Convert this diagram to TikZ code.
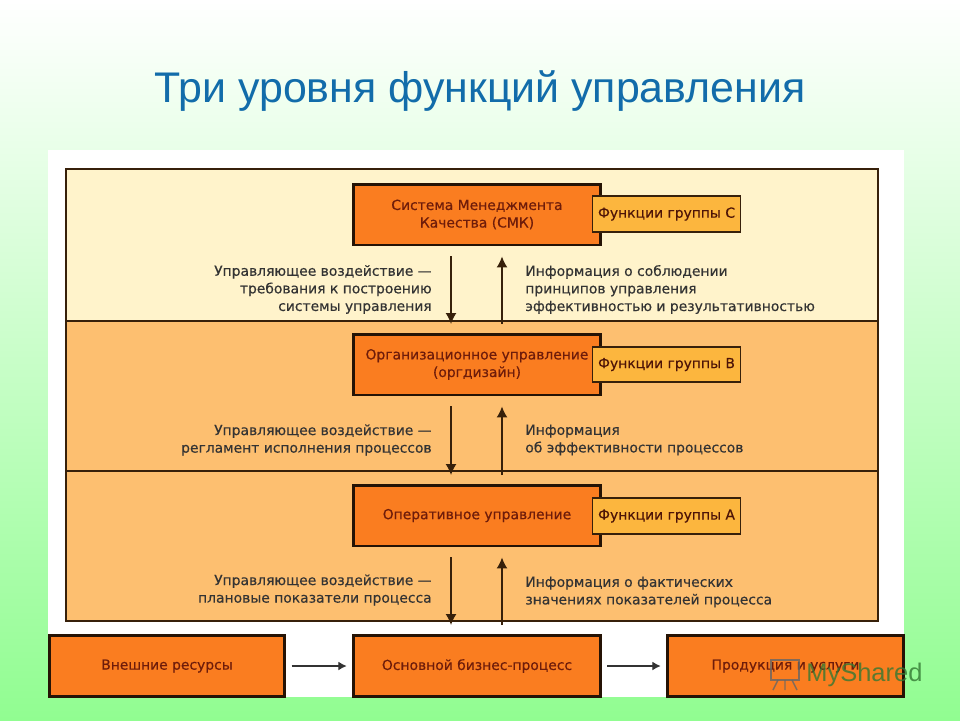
\documentclass[tikz,border=0pt]{standalone}
\usepackage{fontspec}
\setmainfont{DejaVu Sans}
\newfontfamily\titlefont{Liberation Sans}
\newfontfamily\labfont{DejaVu Sans}[FakeBold=0.35]
\usepackage{tikz}
\usetikzlibrary{arrows.meta,calc,positioning}
\definecolor{cgreen}{RGB}{145,253,145}
\definecolor{ctitle}{RGB}{18,108,170}
\definecolor{cbox}{RGB}{250,125,32}
\definecolor{cgroup}{RGB}{252,182,62}
\definecolor{ctop}{RGB}{255,243,203}
\definecolor{clevel}{RGB}{253,191,112}
\definecolor{cline}{RGB}{55,32,10}
\definecolor{cboxtext}{RGB}{110,28,10}
\tikzset{
  panel/.style={draw=cline,line width=0.8pt},
  box/.style={rectangle,fill=cbox,draw=black!85!cbox,line width=1.7pt,
    minimum width=4.94cm,minimum height=1.22cm,align=center,inner sep=0pt,
    text=cboxtext,font=\labfont\fontsize{7.9}{10}\selectfont},
  sidebox/.style={box,minimum width=4.72cm},
  groupbox/.style={rectangle,fill=cgroup,draw=cline,line width=1pt,
    minimum width=2.96cm,minimum height=0.71cm,inner sep=0pt,
    text=cboxtext!70!black,font=\labfont\fontsize{7.9}{10}\selectfont},
  leftlab/.style={anchor=east,align=right,inner sep=0pt,text=black!80,
    font=\labfont\fontsize{7.9}{10}\selectfont},
  rightlab/.style={anchor=west,align=left,inner sep=0pt,text=black!80,
    font=\labfont\fontsize{7.9}{10}\selectfont},
  arr/.style={-{Latex[length=2.2mm,width=2.2mm]},line width=0.8pt,draw=cline},
  harr/.style={-{Latex[length=1.7mm,width=1.8mm]},line width=0.8pt,draw=black!80,shorten <=3pt,shorten >=3pt}
}
\begin{document}
\begin{tikzpicture}[x=0.02cm,y=-0.02cm]
  \useasboundingbox (0,0) rectangle (960,720);
  \shade[top color=white,bottom color=cgreen,middle color=cgreen!50] (0,0) rectangle (960,720);
  \node[text=ctitle,font=\titlefont\fontsize{24.4}{28}\selectfont,inner sep=0pt] (title) at (480,91) {Три уровня функций управления};
  \fill[white] (48,150) rectangle (904,697);
  % three levels
  \draw[panel,fill=ctop] (66,169) rectangle (878,321);
  \draw[panel,fill=clevel] (66,321) rectangle (878,471);
  \draw[panel,fill=clevel] (66,471) rectangle (878,621);
  % management boxes with their groups
  \node[box] (smk) at (477,214.5) {Система Менеджмента\\Качества (СМК)};
  \node[groupbox] (groupc) at (666.5,214) {Функции группы С};
  \node[box] (org) at (477,364.5) {Организационное управление\\(оргдизайн)};
  \node[groupbox] (groupb) at (666.5,364.5) {Функции группы В};
  \node[box] (oper) at (477,515.5) {Оперативное управление};
  \node[groupbox] (groupa) at (666.5,516) {Функции группы А};
  % bottom row
  \node[sidebox] (res) at (167,666) {Внешние ресурсы};
  \node[box] (main) at (477,666) {Основной бизнес-процесс};
  \node[sidebox] (prod) at (785.5,666) {Продукция и услуги};
  \draw[harr] (res) -- (main);
  \draw[harr] (main) -- (prod);
  % control and information arrows
  \foreach \up/\low/\lowy in {smk/org/324,org/oper/475,oper/main/625}{
    \coordinate (d\up) at ($(\up.south)+(-26,10)$);
    \coordinate (u\up) at ($(\up.south)+(25,10)$);
    \draw[arr] (d\up) -- (d\up |- 0,\lowy);
    \draw[arr] (u\up |- 0,\lowy) -- (u\up);
  }
  % labels
  \node[leftlab] (cmdc) at (432,289.5) {Управляющее воздействие —\\требования к построению\\системы управления};
  \node[rightlab] (infoc) at (525,289.5) {Информация о соблюдении\\принципов управления\\эффективностью и результативностью};
  \node[leftlab] (cmdb) at (432,440) {Управляющее воздействие —\\регламент исполнения процессов};
  \node[rightlab] (infob) at (525,440) {Информация\\об эффективности процессов};
  \node[leftlab] (cmda) at (432,590) {Управляющее воздействие —\\плановые показатели процесса};
  \node[rightlab] (infoa) at (525,592) {Информация о фактических\\значениях показателей процесса};
  % watermark
  \node[anchor=west,inner sep=0pt,text=black!55!green!60!gray,opacity=0.8,font=\titlefont\fontsize{14.5}{16}\selectfont] (mark) at (806,675) {MyShared};
  \draw[black!60,line width=0.8pt,opacity=0.8] (771,660) rectangle (799,680);
  \draw[black!60,line width=0.8pt,opacity=0.8] (778,680) -- (773,690) (785,680) -- (785,690) (792,680) -- (797,690);
\end{tikzpicture}
\end{document}
